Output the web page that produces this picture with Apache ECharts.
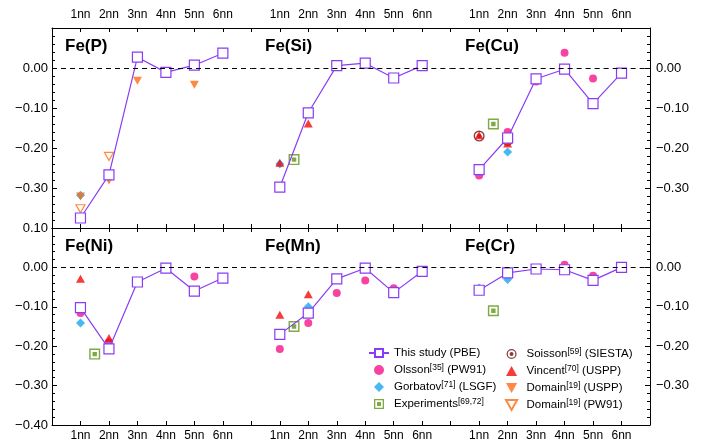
<!DOCTYPE html>
<html>
<head>
<meta charset="utf-8">
<script src="https://cdn.jsdelivr.net/npm/echarts@6/dist/echarts.min.js"></script>
<style>
html, body { margin: 0; background: #fff; }
#chart { width: 702px; height: 442px; }
</style>
</head>
<body>
<div id="chart"></div>
<script>
// categories and panels
var categories = ['1nn', '2nn', '3nn', '4nn', '5nn', '6nn'];
var panels = ['Fe(P)', 'Fe(Si)', 'Fe(Cu)', 'Fe(Ni)', 'Fe(Mn)', 'Fe(Cr)'];

// binding energies (eV), one row per panel, one value per neighbour shell
var thisStudy = [
    [-0.375, -0.267, 0.027, -0.011, 0.007, 0.037],
    [-0.298, -0.112, 0.006, 0.012, -0.025, 0.006],
    [-0.254, -0.175, -0.027, -0.003, -0.089, -0.013],
    [-0.102, -0.207, -0.037, -0.002, -0.060, -0.027],
    [-0.170, -0.116, -0.029, -0.002, -0.064, -0.010],
    [-0.058, -0.014, -0.004, -0.006, -0.033, 0.000]
];
var olsson = [
    [],
    [],
    [-0.269, -0.160, -0.034, 0.038, -0.026],
    [-0.116, -0.190, -0.036, -0.002, -0.023],
    [-0.207, -0.141, -0.065, -0.033, -0.053],
    [-0.058, -0.014, -0.004, 0.007, -0.021]
];
var gorbatov = [
    [-0.318],
    [-0.240],
    [-0.259, -0.210],
    [-0.141, -0.200],
    [-0.170, -0.100],
    [-0.052, -0.031]
];
// experiments sit between 1nn and 2nn
var experiments = [null, -0.229, -0.140, -0.220, -0.150, -0.110];
var soisson = [[], [], [-0.170, -0.181], [], [], []];
var vincent = [
    [],
    [-0.237, -0.139],
    [-0.168, -0.189],
    [-0.029, -0.179],
    [-0.120, -0.068],
    []
];
var domainUspp = [[-0.321, -0.281, -0.032, -0.010, -0.042], [], [], [], [], []];
var domainPw91 = [[-0.352, -0.221], [], [], [], [], []];

var FONT = '"Liberation Sans", Arial, Helvetica, sans-serif';
var PURPLE = '#8a3cf5';
var PINK = '#f7148a';
var CYAN = '#1aa7ec';
var GREEN = '#5e9416';
var DARKRED = '#6b0f0f';
var RED = '#f50a0a';
var ORANGE = '#ff6a13';

var DIAMOND = 'path://M5,0L10,5L5,10L0,5Z';
var TRI_UP = 'path://M5,0L10,9L0,9Z';
var TRI_DOWN = 'path://M0,0L10,0L5,9Z';
var EXP_SQ = 'path://M0,0H10V10H0Z M1.3,1.3V8.7H8.7V1.3Z M3,3H7V7H3Z';
var RING = 'path://M0,10A10,10,0,1,1,20,10A10,10,0,1,1,0,10Z M2.5,10A7.5,7.5,0,1,0,17.5,10A7.5,7.5,0,1,0,2.5,10Z M6,10A4,4,0,1,1,14,10A4,4,0,1,1,6,10Z';

var legendText = {
    'This study (PBE)': '{n|This study (PBE)}',
    'Olsson': '{n|Olsson}{s|[35]}{n| (PW91)}',
    'Gorbatov': '{n|Gorbatov}{s|[71]}{n| (LSGF)}',
    'Experiments': '{n|Experiments}{s|[69,72]}',
    'Soisson': '{n|Soisson}{s|[59]}{n| (SIESTA)}',
    'Vincent': '{n|Vincent}{s|[70]}{n| (USPP)}',
    'Domain USPP': '{n|Domain}{s|[19]}{n| (USPP)}',
    'Domain PW91': '{n|Domain}{s|[19]}{n| (PW91)}'
};

function pts(vals) {
    var out = [];
    for (var i = 0; i < vals.length; i++) {
        if (vals[i] != null) out.push([i + 1, vals[i]]);
    }
    return out;
}

function yLabel(v, col, row) {
    var k = Math.round(v * 100);
    if ((row === 0 || col === 2) && (k === 10 || k === -40)) return '';
    var s = (Math.abs(k) / 100).toFixed(2);
    return k < 0 ? '\u2212' + s : s;
}

function makeX(p, pos, labels) {
    return {
        type: 'value', gridIndex: p, position: pos,
        min: 0, max: 7, interval: 1,
        axisLine: { show: true, onZero: false, lineStyle: { color: '#000', width: 1 } },
        axisTick: { show: true, inside: true, length: 4, lineStyle: { color: '#000' } },
        axisLabel: {
            show: labels, margin: pos === 'top' ? 7 : 5,
            color: '#000', fontSize: 12, fontFamily: FONT,
            formatter: function (v) { return categories[v - 1] || ''; }
        },
        splitLine: { show: false }
    };
}

function makeY(p, col, row) {
    return {
        type: 'value', gridIndex: p, show: col !== 1,
        position: col === 2 ? 'right' : 'left',
        min: -0.4, max: 0.1, interval: 0.1,
        axisLine: { show: true, onZero: false, lineStyle: { color: '#000', width: 1 } },
        axisTick: { show: true, inside: true, length: 5, lineStyle: { color: '#000' } },
        minorTick: { show: true, splitNumber: 5, length: 3, lineStyle: { color: '#000' } },
        axisLabel: {
            margin: col === 2 ? 6 : 4, color: '#000', fontSize: 13, fontFamily: FONT,
            showMinLabel: true, showMaxLabel: true,
            formatter: function (v) { return yLabel(v, col, row); }
        },
        splitLine: { show: false },
        minorSplitLine: { show: false }
    };
}

var grids = [], xAxes = [], yAxes = [], titles = [], series = [];

for (var p = 0; p < 6; p++) {
    var row = Math.floor(p / 3), col = p % 3;
    grids.push({ left: 52 + col * 199.33, top: 28 + row * 200, width: 199.33, height: 200 });
    xAxes.push(makeX(p, 'top', row === 0));
    xAxes.push(makeX(p, 'bottom', row === 1));
    yAxes.push(makeY(p, col, row));
    titles.push({
        text: panels[p], left: 65 + col * 200, top: 38 + row * 200, padding: 0,
        textStyle: { fontSize: 17, fontWeight: 'bold', fontFamily: FONT, color: '#000' }
    });

    var xi = 2 * p;
    series.push({
        name: 'This study (PBE)', type: 'line', xAxisIndex: xi, yAxisIndex: p,
        data: pts(thisStudy[p]), symbol: 'rect', symbolSize: 10,
        itemStyle: { color: '#fff', borderColor: PURPLE, borderWidth: 1.2 },
        lineStyle: { color: PURPLE, width: 1.2 },
        markLine: {
            silent: true, symbol: 'none', label: { show: false },
            lineStyle: { color: '#000', type: [5, 4], width: 1 },
            data: [{ yAxis: 0 }]
        }
    });
    series.push({
        name: 'Olsson', type: 'scatter', xAxisIndex: xi, yAxisIndex: p,
        data: pts(olsson[p]), symbol: 'circle', symbolSize: 8,
        itemStyle: { color: PINK }
    });
    series.push({
        name: 'Gorbatov', type: 'scatter', xAxisIndex: xi, yAxisIndex: p,
        data: pts(gorbatov[p]), symbol: DIAMOND, symbolSize: 9,
        itemStyle: { color: CYAN }
    });
    series.push({
        name: 'Experiments', type: 'scatter', xAxisIndex: xi, yAxisIndex: p,
        data: experiments[p] == null ? [] : [[1.5, experiments[p]]],
        symbol: EXP_SQ, symbolSize: 11,
        itemStyle: { color: GREEN }
    });
    series.push({
        name: 'Soisson', type: 'scatter', xAxisIndex: xi, yAxisIndex: p,
        data: pts(soisson[p]), symbol: RING, symbolSize: 11,
        itemStyle: { color: DARKRED }
    });
    series.push({
        name: 'Vincent', type: 'scatter', xAxisIndex: xi, yAxisIndex: p,
        data: pts(vincent[p]), symbol: TRI_UP, symbolSize: [9, 8],
        itemStyle: { color: RED }
    });
    series.push({
        name: 'Domain USPP', type: 'scatter', xAxisIndex: xi, yAxisIndex: p,
        data: pts(domainUspp[p]), symbol: TRI_DOWN, symbolSize: [9, 8],
        itemStyle: { color: ORANGE }
    });
    series.push({
        name: 'Domain PW91', type: 'scatter', xAxisIndex: xi, yAxisIndex: p,
        data: pts(domainPw91[p]), symbol: TRI_DOWN, symbolSize: [9, 8],
        itemStyle: { color: '#fff', borderColor: ORANGE, borderWidth: 1.2 }
    });
}

var legendBase = {
    orient: 'vertical', top: 347, padding: 0,
    itemWidth: 20, itemHeight: 10, itemGap: 4,
    symbolKeepAspect: true,
    formatter: function (name) { return legendText[name]; },
    textStyle: {
        color: '#000', fontFamily: FONT, fontSize: 11.5,
        rich: {
            n: { fontSize: 11.5, lineHeight: 14, fontFamily: FONT, color: '#000' },
            s: { fontSize: 8.5, lineHeight: 9, fontFamily: FONT, color: '#000', verticalAlign: 'top' }
        }
    }
};

var chart = echarts.init(document.getElementById('chart'));
chart.setOption({
    animation: false,
    backgroundColor: '#fff',
    title: titles,
    grid: grids,
    xAxis: xAxes,
    yAxis: yAxes,
    legend: [
        Object.assign({}, legendBase, {
            left: 368,
            data: ['This study (PBE)', 'Olsson', 'Gorbatov', 'Experiments']
        }),
        Object.assign({}, legendBase, {
            left: 505,
            data: ['Soisson', 'Vincent', 'Domain USPP', 'Domain PW91']
        })
    ],
    series: series
});
</script>
</body>
</html>
